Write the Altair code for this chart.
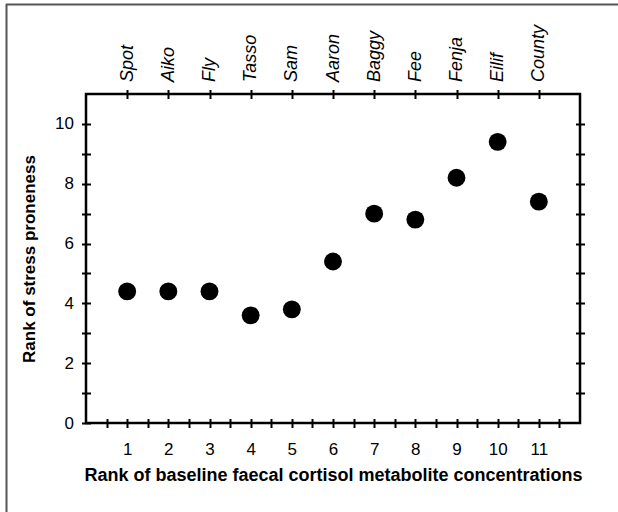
import altair as alt
import pandas as pd

# ---- data ----
names = ["Spot", "Aiko", "Fly", "Tasso", "Sam", "Aaron", "Baggy", "Fee", "Fenja", "Eilif", "County"]
cortisol_rank = [1, 2, 3, 4, 5, 6, 7, 8, 9, 10, 11]
stress_rank = [4.4, 4.4, 4.4, 3.6, 3.8, 5.4, 7.0, 6.8, 8.2, 9.4, 7.4]

x_ticks = [0.5, 1, 1.5, 2, 2.5, 3, 3.5, 4, 4.5, 5, 5.5, 6, 6.5, 7, 7.5, 8, 8.5, 9, 9.5, 10, 10.5, 11, 11.5]
y_ticks = [0, 1, 2, 3, 4, 5, 6, 7, 8, 9, 10]
top_ticks = [1, 2, 3, 4, 5, 6, 7, 8, 9, 10, 11]
right_ticks = [1, 2, 3, 4, 5, 6, 7, 8, 9, 10]

df = pd.DataFrame({"name": names, "cortisol": cortisol_rank, "stress": stress_rank})

FONT = "Liberation Sans"
xs = alt.Scale(domain=[0, 12], nice=False, zero=False)
ys = alt.Scale(domain=[0, 11], nice=False, zero=False)

tick_style = dict(domain=False, ticks=True, tickColor="black", tickWidth=2, tickSize=9,
                  offset=-4.5, grid=False, labelFont=FONT, labelColor="black",
                  titleFont=FONT, titleColor="black", titleFontWeight="bold")

bottom_axis = alt.Axis(orient="bottom", values=x_ticks,
                       labelExpr="datum.value % 1 === 0 ? '' + datum.value : ''",
                       labelFontSize=17, labelPadding=14,
                       title="Rank of baseline faecal cortisol metabolite concentrations",
                       titleFontSize=18, titlePadding=9, **tick_style)
left_axis = alt.Axis(orient="left", values=y_ticks,
                     labelExpr="datum.value % 2 === 0 ? '' + datum.value : ''",
                     labelFontSize=17, labelPadding=8,
                     title="Rank of stress proneness", titleFontSize=17, titlePadding=16,
                     **tick_style)
names_expr = "[" + ",".join("'" + n + "'" for n in names) + "][datum.value - 1]"
top_axis = alt.Axis(orient="top", values=top_ticks, labelExpr=names_expr,
                    labelAngle=270, labelAlign="left", labelBaseline="middle",
                    labelFontSize=18, labelFontStyle="italic", labelPadding=8,
                    title=None, **tick_style)
right_axis = alt.Axis(orient="right", values=right_ticks, labels=False, title=None, **tick_style)

points = alt.Chart(df).mark_circle(size=320, color="black", opacity=1).encode(
    x=alt.X("cortisol:Q", scale=xs, axis=bottom_axis),
    y=alt.Y("stress:Q", scale=ys, axis=left_axis),
)
top_layer = alt.Chart(df).mark_point(opacity=0).encode(
    x=alt.X("cortisol:Q", scale=xs, axis=top_axis),
    y=alt.Y("stress:Q", scale=ys, axis=None),
)
right_layer = alt.Chart(df).mark_point(opacity=0).encode(
    x=alt.X("cortisol:Q", scale=xs, axis=None),
    y=alt.Y("stress:Q", scale=ys, axis=right_axis),
)

# decorative figure border (top and left edges, as in the reference)
one = pd.DataFrame({"k": [0]})
border_top = alt.Chart(one).mark_rule(color="#555555", strokeWidth=2).encode(
    x=alt.value(-80), x2=alt.value(532), y=alt.value(-89.5))
border_left = alt.Chart(one).mark_rule(color="#555555", strokeWidth=2).encode(
    x=alt.value(-79.5), y=alt.value(-90), y2=alt.value(418))

chart = alt.layer(points, top_layer, right_layer, border_top, border_left).resolve_axis(
    x="independent", y="independent"
).properties(
    width=494, height=329,
    autosize=alt.AutoSizeParams(type="none"),
    padding={"left": 86, "top": 94, "right": 38, "bottom": 89},
    background="white",
).configure_view(stroke="black", strokeWidth=2.5)

chart.save("out.html", embed_options={"renderer": "svg", "actions": False})
